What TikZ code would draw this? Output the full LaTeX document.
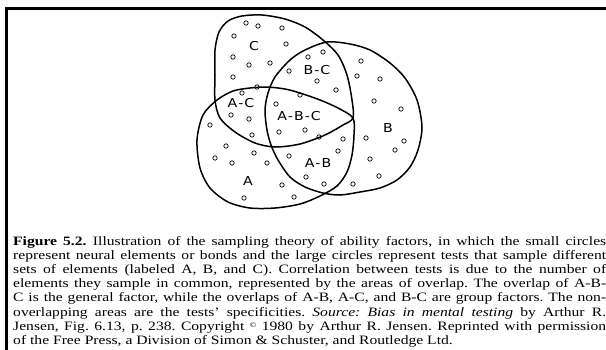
\documentclass[tikz,border=0pt]{standalone}
\usepackage{fontspec}
\setmainfont[FakeStretch=1.22]{Liberation Serif}
\newfontfamily\setfont[FakeStretch=1.15]{DejaVu Sans}
\newcommand\sethy{\kern1pt-\kern1pt}
\newcommand\capline[1]{\hbox to 593pt{#1}}

\begin{document}
\begin{tikzpicture}[x=1pt,y=-1pt,
    ring/.style={line width=1.5pt,line join=round},
    elem/.style={line width=0.7pt},
    setlabel/.style={font=\setfont\fontsize{12.3}{14}\selectfont,inner sep=0pt}]
    \useasboundingbox (0,0) rectangle (606,349);
    % frame, cut off at the right and bottom
    \draw[line width=2.7pt] (6.8,360) -- (6.8,8.7) -- (620,8.7);
    % test C
    \draw[ring] plot[smooth cycle] coordinates {(353,118)(352,100)(347,75)(338,55)(323,40)(305,27)(285,19)(262,15)(242,16)(228,21)(219,32)(215,50)(215,75)(215,100)(220,118)(235,132)(255,143)(275,147)(300,144)(325,135)(343,125)};
    % test A
    \draw[ring] plot[smooth cycle] coordinates {(197,140)(203,115)(217,100)(233,91)(250,88)(267,87)(285,89)(300,93)(320,100)(338,108)(353,118)(354,135)(352,155)(347,172)(337,186)(320,196)(300,204)(275,208)(250,208)(228,202)(210,188)(200,168)};
    % test B
    \draw[ring] plot[smooth cycle] coordinates {(327,42)(350,44)(370,50)(390,63)(405,78)(417,100)(422,127)(418,150)(410,167)(397,180)(380,188)(360,192)(340,195)(323,193)(305,187)(290,177)(278,160)(271,145)(267,130)(265,110)(268,93)(275,77)(290,60)(305,50)};
    % elements
    \foreach \x/\y in {246/23,258/26,282/28,234/36,286/44,233/57,249/65,270/63,233/77,
        289/71,308/57,323/52,317/81,336/90,
        242/93,257/87,231/115,249/119,252/135,
        276/104,300/95,279/132,305/130,319/137,
        343/139,338/151,289/156,306/177,324/184,
        210/125,226/146,215/158,232/163,254/153,267/163,282/185,244/198,294/197,
        361/61,357/76,380/79,374/101,401/109,366/138,404/141,395/150,370/159,379/176,353/184}
      \draw[elem] (\x,\y) circle (2.2pt);
    \node[setlabel] (labC) at (254,46) {C};
    \node[setlabel] (labBC) at (317,70) {B\sethy C};
    \node[setlabel] (labAC) at (241,103) {A\sethy C};
    \node[setlabel] (labABC) at (299,116) {A\sethy B\sethy C};
    \node[setlabel] (labB) at (388,128) {B};
    \node[setlabel] (labAB) at (318,163) {A\sethy B};
    \node[setlabel] (labA) at (248,181) {A};
    % caption, one box per printed line
    \node[anchor=base west,inner sep=0pt,font=\fontsize{12.8}{14.2}\selectfont] (caption) at (13,245)
      {\vtop{\frenchspacing\baselineskip=14.2pt
      \capline{\textbf{Figure 5.2.}\enspace Illustration of the sampling theory of ability factors, in which the small circles}
      \capline{represent neural elements or bonds and the large circles represent tests that sample different}
      \capline{sets of elements (labeled A, B, and C). Correlation between tests is due to the number of}
      \capline{elements they sample in common, represented by the areas of overlap. The overlap of A-B-}
      \capline{C is the general factor, while the overlaps of A-B, A-C, and B-C are group factors. The non-}
      \capline{overlapping areas are the tests’ specificities. \textit{Source: Bias in mental testing} by Arthur R.}
      \capline{Jensen, Fig. 6.13, p. 238. Copyright \raisebox{0.5ex}{\scriptsize ©} 1980 by Arthur R. Jensen. Reprinted with permission}
      \hbox{of the Free Press, a Division of Simon \& Schuster, and Routledge Ltd.}}};
\end{tikzpicture}
\end{document}
